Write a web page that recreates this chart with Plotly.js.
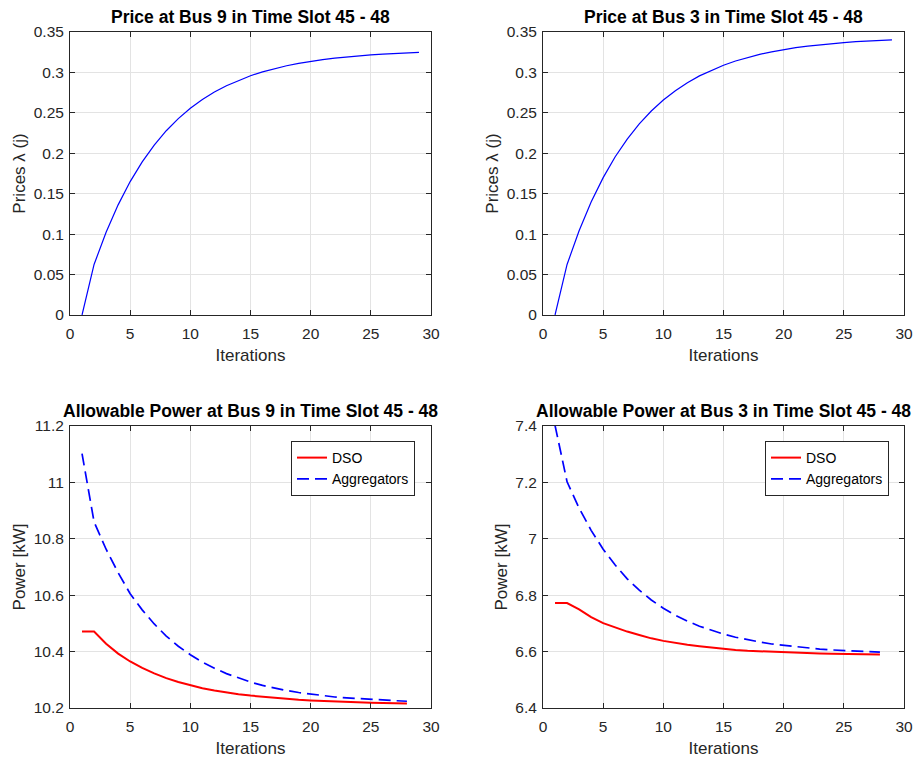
<!DOCTYPE html>
<html>
<head>
<meta charset="utf-8">
<script src="https://cdn.plot.ly/plotly-3.0.1.min.js"></script>
<style>html,body{margin:0;padding:0;background:#fff;}#chart{width:913px;height:758px;}</style>
</head>
<body>
<div id="chart"></div>
<script>
// ---- data ----
var iterPrice = [1,2,3,4,5,6,7,8,9,10,11,12,13,14,15,16,17,18,19,20,21,22,23,24,25,26,27,28,29];
var priceBus9 = [0,0.0625,0.1023,0.1362,0.1650,0.1894,0.2102,0.2279,0.2429,0.2557,0.2665,0.2757,0.2836,0.2902,0.2959,0.3007,0.3048,0.3083,0.3112,0.3138,0.3159,0.3177,0.3192,0.3206,0.3217,0.3226,0.3234,0.3241,0.3247];
var priceBus3 = [0,0.0625,0.1042,0.1397,0.1699,0.1957,0.2176,0.2363,0.2523,0.2658,0.2774,0.2873,0.2957,0.3028,0.3089,0.3141,0.3185,0.3223,0.3255,0.3283,0.3306,0.3326,0.3343,0.3357,0.3369,0.3380,0.3389,0.3396,0.3403];

var iterPower = [1,2,3,4,5,6,7,8,9,10,11,12,13,14,15,16,17,18,19,20,21,22,23,24,25,26,27,28];
var dsoBus9 = [10.471,10.471,10.428,10.393,10.365,10.342,10.323,10.306,10.292,10.280,10.270,10.262,10.255,10.249,10.244,10.240,10.236,10.232,10.229,10.227,10.225,10.223,10.221,10.220,10.219,10.218,10.217,10.216];
var aggBus9 = [11.102,10.860,10.763,10.680,10.605,10.548,10.498,10.455,10.419,10.389,10.363,10.341,10.322,10.306,10.292,10.280,10.270,10.262,10.255,10.249,10.244,10.239,10.236,10.233,10.230,10.228,10.226,10.224];
var dsoBus3 = [6.772,6.772,6.750,6.722,6.701,6.685,6.671,6.659,6.647,6.638,6.630,6.624,6.619,6.614,6.610,6.606,6.603,6.601,6.599,6.597,6.596,6.594,6.593,6.592,6.591,6.591,6.590,6.590];
var aggBus3 = [7.402,7.202,7.109,7.030,6.963,6.907,6.858,6.818,6.783,6.754,6.729,6.708,6.690,6.675,6.662,6.651,6.642,6.634,6.627,6.622,6.617,6.613,6.609,6.606,6.604,6.602,6.600,6.598];

var titles = ['Price at Bus 9 in Time Slot 45 - 48','Price at Bus 3 in Time Slot 45 - 48',
              'Allowable Power at Bus 9 in Time Slot 45 - 48','Allowable Power at Bus 3 in Time Slot 45 - 48'];
var legendNames = ['DSO','Aggregators'];

var FONT = 'Liberation Sans, Arial, Helvetica, sans-serif';
var AX = '#262626';

var traces = [
  {x: iterPrice, y: priceBus9, xaxis:'x', yaxis:'y', mode:'lines', line:{color:'#0000ff', width:1.2}, showlegend:false},
  {x: iterPrice, y: priceBus3, xaxis:'x2', yaxis:'y2', mode:'lines', line:{color:'#0000ff', width:1.2}, showlegend:false},
  {x: iterPower, y: dsoBus9, xaxis:'x3', yaxis:'y3', mode:'lines', name:legendNames[0], line:{color:'#ff0000', width:2}, legend:'legend'},
  {x: iterPower, y: aggBus9, xaxis:'x3', yaxis:'y3', mode:'lines', name:legendNames[1], line:{color:'#0000ff', width:1.7, dash:'12px,6px'}, legend:'legend'},
  {x: iterPower, y: dsoBus3, xaxis:'x4', yaxis:'y4', mode:'lines', name:legendNames[0], line:{color:'#ff0000', width:2}, legend:'legend2'},
  {x: iterPower, y: aggBus3, xaxis:'x4', yaxis:'y4', mode:'lines', name:legendNames[1], line:{color:'#0000ff', width:1.7, dash:'12px,6px'}, legend:'legend2'}
];

function xa(dom, anchor){
  return {domain: dom, anchor: anchor, range:[0,30], dtick:5, tick0:0,
    showline:true, linecolor:AX, linewidth:1, mirror:'ticks', ticks:'inside', ticklen:5, tickcolor:AX,
    showgrid:true, gridcolor:'#e3e3e3', zeroline:false, automargin:false, ticklabelstandoff:4,
    tickfont:{family:FONT, size:15.5, color:AX},
    title:{text:'Iterations', font:{family:FONT, size:17, color:AX}, standoff:8}};
}
function ya(dom, anchor, rng, dt, label){
  return {domain: dom, anchor: anchor, range: rng, dtick: dt, tick0: rng[0],
    showline:true, linecolor:AX, linewidth:1, mirror:'ticks', ticks:'inside', ticklen:5, tickcolor:AX,
    showgrid:true, gridcolor:'#e3e3e3', zeroline:false, automargin:false, ticklabelstandoff:2,
    tickfont:{family:FONT, size:15.5, color:AX},
    title:{text: label, font:{family:FONT, size:17, color:AX}, standoff:3}};
}

var xL = [70/913, 431/913], xR = [543/913, 904/913];
var yT = [1-315/758, 1-32/758], yB = [1-708/758, 1-426/758];

function leg(xr){
  return {x:xr/913, y:1-441/758, xanchor:'right', yanchor:'top', bgcolor:'#ffffff',
          bordercolor:AX, borderwidth:1, font:{family:FONT, size:14, color:'#000'}, tracegroupgap:0};
}

var layout = {
  width:913, height:758,
  margin:{l:0, r:0, t:0, b:0},
  paper_bgcolor:'#ffffff', plot_bgcolor:'#ffffff',
  font:{family:FONT, color:AX},
  xaxis: xa(xL,'y'), yaxis: ya(yT,'x',[0,0.35],0.05,'Prices \u03bb (j)'),
  xaxis2: xa(xR,'y2'), yaxis2: ya(yT,'x2',[0,0.35],0.05,'Prices \u03bb (j)'),
  xaxis3: xa(xL,'y3'), yaxis3: ya(yB,'x3',[10.2,11.2],0.2,'Power [kW]'),
  xaxis4: xa(xR,'y4'), yaxis4: ya(yB,'x4',[6.4,7.4],0.2,'Power [kW]'),
  legend: leg(415),
  legend2: leg(889),
  annotations: [
    {text:'<b>'+titles[0]+'</b>', x:(xL[0]+xL[1])/2, y:1-17/758},
    {text:'<b>'+titles[1]+'</b>', x:(xR[0]+xR[1])/2, y:1-17/758},
    {text:'<b>'+titles[2]+'</b>', x:(xL[0]+xL[1])/2, y:1-411/758},
    {text:'<b>'+titles[3]+'</b>', x:(xR[0]+xR[1])/2, y:1-411/758}
  ].map(function(a){ return Object.assign({xref:'paper', yref:'paper', xanchor:'center', yanchor:'middle',
        showarrow:false, font:{family:FONT, size:17.5, color:'#000'}}, a); }),
  showlegend:true
};

Plotly.newPlot('chart', traces, layout, {displayModeBar:false, staticPlot:true});
</script>
</body>
</html>
